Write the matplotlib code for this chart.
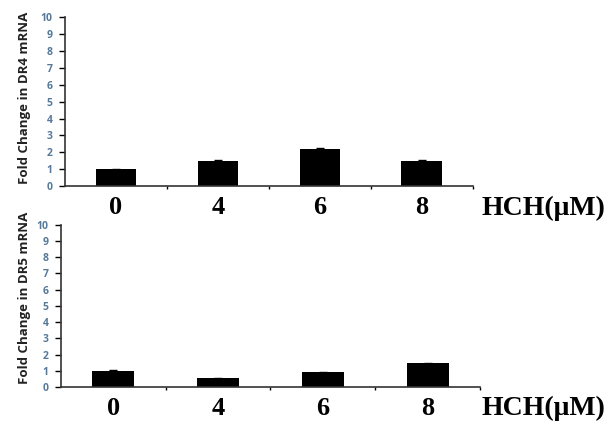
import matplotlib
matplotlib.use('Agg')
import matplotlib.pyplot as plt
import numpy as np

doses = ['0', '4', '6', '8']
dr4 = [1.0, 1.5, 2.2, 1.5]
dr4_err = [0.03, 0.05, 0.06, 0.03]
dr5 = [1.0, 0.55, 0.9, 1.45]
dr5_err = [0.03, 0.03, 0.03, 0.04]
yticks = list(range(0, 11))

fig = plt.figure(figsize=(6.14, 4.29), dpi=100)
serif = 'Liberation Serif'
sans = 'Open Sans'
tick_col = '#56799a'


def panel(rect, vals, errs, ylabel, label_xy):
    ax = fig.add_axes(rect)
    x = np.arange(len(vals)) + 0.5
    ax.bar(x, vals, width=0.4, color='black', zorder=2)
    ax.errorbar(x, vals, yerr=errs, fmt='none', ecolor='black',
                elinewidth=1, capsize=3, zorder=3)
    ax.set_xlim(0, len(vals))
    ax.set_ylim(0, 10)
    ax.set_yticks(yticks)
    ax.set_yticklabels([str(t) for t in yticks], fontsize=7.5,
                       fontweight='bold', color=tick_col, family=sans)
    ax.tick_params(axis='y', length=4, width=1, pad=5)
    ax.set_xticks(x)
    ax.set_xticklabels(doses, fontsize=19, fontweight='bold', family=serif)
    ax.set_xticks([1, 2, 3, 4], minor=True)
    ax.tick_params(axis='x', which='major', length=0, pad=7)
    ax.tick_params(axis='x', which='minor', length=2, width=1)
    for s in ['top', 'right']:
        ax.spines[s].set_visible(False)
    for s in ['left', 'bottom']:
        ax.spines[s].set_color('#333333')
        ax.spines[s].set_linewidth(1.2)
    ax.set_ylabel(ylabel, fontsize=9.5, fontweight='bold', family=sans,
                  color='#222222')
    ax.yaxis.set_label_coords(*label_xy)
    return ax


panel([0.106, 0.566, 0.664, 0.394], dr4, dr4_err,
      'Fold Change in DR4 mRNA', (-0.083, 0.52))
panel([0.099, 0.098, 0.683, 0.378], dr5, dr5_err,
      'Fold Change in DR5 mRNA', (-0.072, 0.55))

fig.text(0.785, 0.515, 'HCH(\u03bcM)', fontsize=20, fontweight='bold',
         family=serif, va='center')
fig.text(0.785, 0.048, 'HCH(\u03bcM)', fontsize=20, fontweight='bold',
         family=serif, va='center')

fig.savefig('out.png', dpi=100)
